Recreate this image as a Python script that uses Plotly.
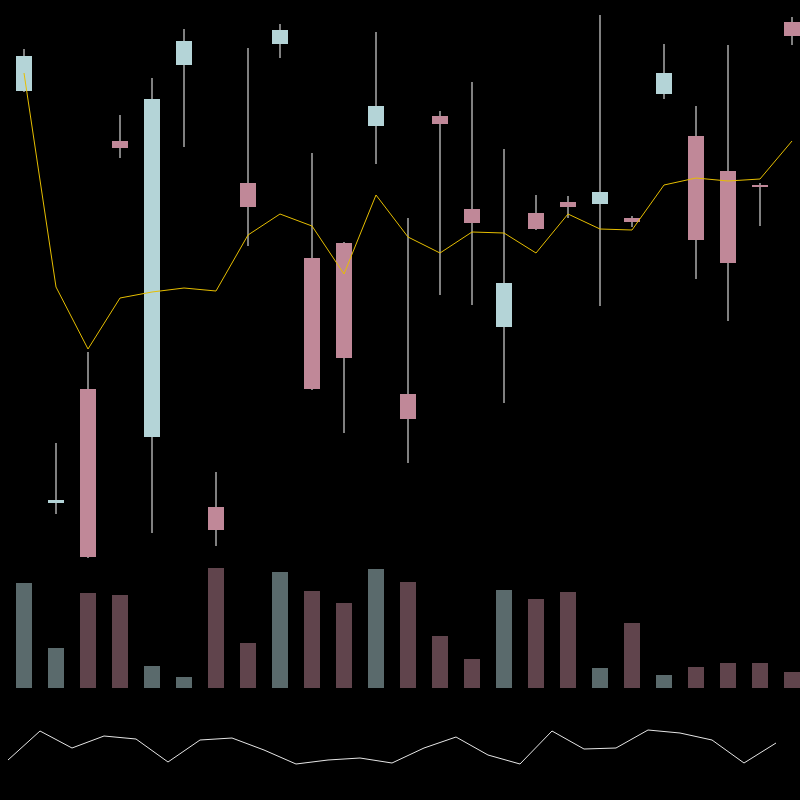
import plotly.graph_objects as go

# ---- data ----
idx = list(range(25))
open_ = [66.9, 25.7, 37.1, 61.9, 32.3, 69.5, 25.3, 57.7, 71.6, 50.2, 51.7, 63.4, 36.6,
         64.4, 55.1, 43.3, 54.7, 55.8, 55.6, 54.2, 66.6, 62.4, 58.9, 57.5, 73.8]
close = [70.4, 26.0, 20.3, 61.2, 66.1, 71.9, 23.0, 55.3, 73.0, 37.1, 40.2, 65.4, 34.1,
         63.6, 53.7, 47.7, 53.1, 55.3, 56.8, 53.8, 68.7, 52.0, 49.7, 57.3, 72.4]
high = [71.1, 31.7, 40.8, 64.5, 68.2, 73.1, 28.8, 71.2, 73.6, 60.7, 51.8, 72.8, 54.2,
        64.9, 67.8, 61.1, 56.5, 56.4, 74.5, 54.4, 71.6, 65.4, 71.5, 57.7, 74.3]
low = [66.8, 24.6, 20.2, 60.2, 22.7, 61.3, 21.4, 51.4, 70.2, 37.0, 32.7, 59.6, 29.7,
       46.5, 45.5, 35.7, 53.0, 54.2, 45.4, 53.3, 66.1, 48.1, 43.9, 53.4, 71.5]
ma = [68.7, 47.3, 41.1, 46.2, 46.8, 47.2, 46.9, 52.5, 54.6, 53.4, 48.6, 56.5, 52.3,
      50.7, 52.8, 52.7, 50.7, 54.6, 53.1, 53.0, 57.5, 58.2, 57.9, 58.1, 61.9]
volume = [105000, 40000, 95000, 93000, 22000, 11000, 120000, 45000, 116000, 97000,
          85000, 119000, 106000, 52000, 29000, 98000, 89000, 96000, 20000, 65000,
          13000, 21000, 25000, 25000, 16000]
osc = [40, 69, 52, 64, 61, 38, 60, 62, 50, 36, 40, 42, 37, 52, 63, 45, 36, 69, 51,
       52, 70, 67, 60, 37, 57]

# ---- styles ----
UP = "rgb(180,212,215)"
DOWN = "rgb(192,136,152)"
UP_V = "rgba(180,212,215,0.5)"
DOWN_V = "rgba(192,136,152,0.5)"
WICK = "rgb(128,128,128)"

is_up = [c >= o for o, c in zip(open_, close)]
body_base = [min(o, c) for o, c in zip(open_, close)]
body_h = [abs(c - o) for o, c in zip(open_, close)]
wick_h = [h - l for h, l in zip(high, low)]

fig = go.Figure()

# wicks
fig.add_trace(go.Bar(x=idx, y=wick_h, base=low, width=0.0625,
                     marker=dict(color=WICK, line=dict(width=0)),
                     xaxis="x", yaxis="y", hoverinfo="skip"))
# bodies
fig.add_trace(go.Bar(x=idx, y=body_h, base=body_base, width=0.5,
                     marker=dict(color=[UP if u else DOWN for u in is_up], line=dict(width=0)),
                     xaxis="x", yaxis="y"))
# moving average
fig.add_trace(go.Scatter(x=idx, y=ma, mode="lines",
                         line=dict(color="rgb(230,190,0)", width=1),
                         xaxis="x", yaxis="y"))
# volume
fig.add_trace(go.Bar(x=idx, y=volume, width=0.5,
                     marker=dict(color=[UP_V if u else DOWN_V for u in is_up], line=dict(width=0)),
                     xaxis="x", yaxis="y2"))
# oscillator
fig.add_trace(go.Scatter(x=idx, y=osc, mode="lines",
                         line=dict(color="rgb(230,230,230)", width=1),
                         xaxis="x3", yaxis="y3"))

hidden = dict(visible=False, showgrid=False, zeroline=False, fixedrange=True)
fig.update_layout(
    width=800, height=800,
    margin=dict(l=0, r=0, t=0, b=0),
    paper_bgcolor="black", plot_bgcolor="black",
    showlegend=False, barmode="overlay",
    xaxis=dict(hidden, range=[-0.75, 24.25], domain=[0, 1]),
    xaxis3=dict(hidden, range=[-0.25, 24.75], domain=[0, 1], anchor="y3"),
    yaxis=dict(hidden, range=[20, 76], domain=[0.3, 1]),
    yaxis2=dict(hidden, range=[0, 128000], domain=[0.14, 0.3]),
    yaxis3=dict(hidden, range=[0, 100], domain=[0, 0.125], anchor="x3"),
)
fig.write_html(
    "out.html",
    config={"displayModeBar": False},
    post_script="document.body.style.margin='0';document.body.style.background='black';"
                "document.body.style.overflow='hidden';",
)
